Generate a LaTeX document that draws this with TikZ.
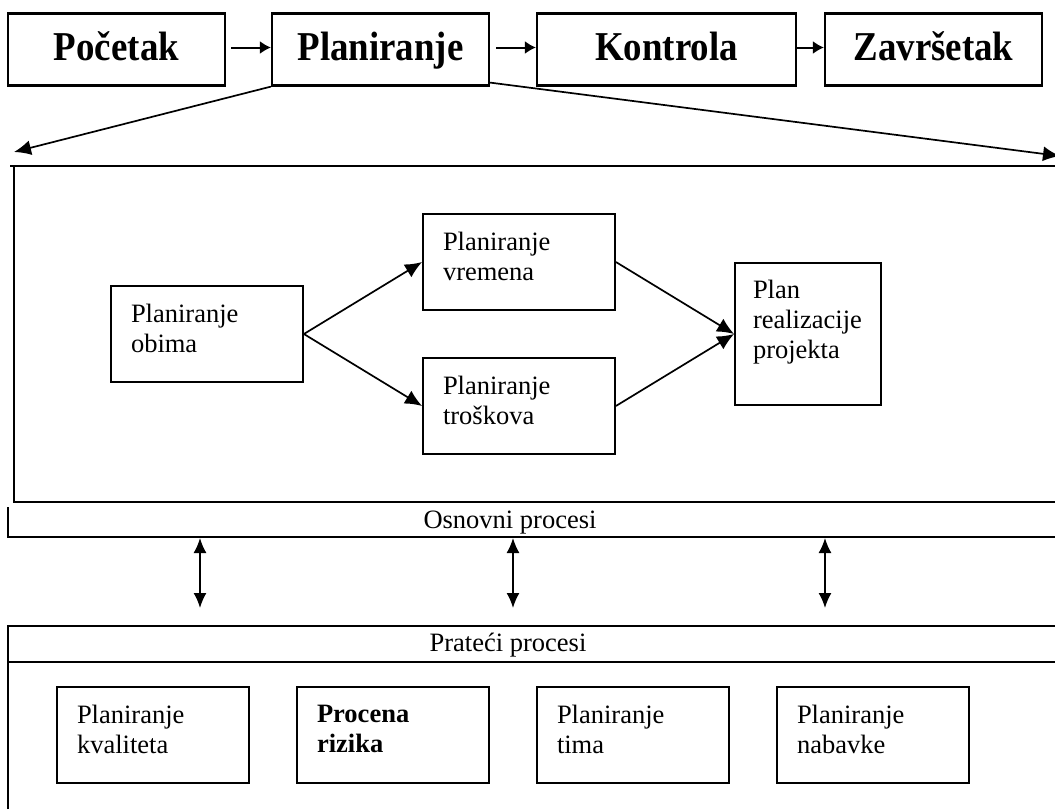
\documentclass[tikz,border=0pt]{standalone}
\usepackage{fontspec}
\setmainfont{Liberation Serif}
\newfontfamily\phasefont[FakeStretch=0.9]{Liberation Serif}
\usetikzlibrary{arrows.meta}

\tikzset{
  phase/.style={draw, line width=2.2pt, minimum width=217pt, minimum height=72pt,
    text height=30pt, text depth=8pt,
    font=\phasefont\fontsize{41}{44}\selectfont\bfseries},
  proc/.style={draw, line width=1.8pt, minimum width=192pt, minimum height=96pt,
    text width=152pt, inner xsep=20pt, text depth=42pt, align=left,
    font=\fontsize{26.5}{30}\selectfont},
  band/.style={font=\fontsize{26.5}{30}\selectfont},
  rule/.style={line width=1.8pt},
  tip/.style={-{Latex[length=17pt,width=15pt]}, line width=1.7pt},
  stip/.style={-{Latex[length=11pt,width=13pt]}, line width=2pt},
  dtip/.style={{Latex[length=15pt,width=13pt]}-{Latex[length=15pt,width=13pt]}, line width=1.7pt}
}

\begin{document}
\begin{tikzpicture}[x=1pt,y=-1pt]
\useasboundingbox (0,0) rectangle (1055,809);

% faze projekta
\node[phase] (pocetak) at (116.5,49.5) {Početak};
\node[phase] (planiranje) at (380.5,49.5) {Planiranje};
\node[phase, minimum width=259pt] (kontrola) at (666.5,49.5) {Kontrola};
\node[phase] (zavrsetak) at (933.5,49.5) {Završetak};
\draw[stip] ([xshift=5pt,yshift=2pt]pocetak.east) -- ([yshift=2pt]planiranje.west);
\draw[stip] ([xshift=6pt,yshift=2pt]planiranje.east) -- ([yshift=2pt]kontrola.west);
\draw[stip] ([yshift=2pt]kontrola.east) -- ([yshift=2pt]zavrsetak.west);

\coordinate (levo) at (14,152);
\coordinate (desno) at (1060,156);
\draw[tip] (planiranje.south west) -- (levo);
\draw[tip] ([yshift=4pt]planiranje.south east) -- (desno);

% osnovni procesi
\draw[rule] (10,166) -- (1055,166);
\draw[rule] (14,166) -- (14,502) -- (1055,502);

\node[proc] (obim) at (207,334) {Planiranje\\obima};
\node[proc] (vreme) at (519,262) {Planiranje\\vremena};
\node[proc] (troskovi) at (519,406) {Planiranje\\troškova};
\node[proc, minimum width=146pt, minimum height=142pt, text width=110pt, inner xsep=18pt, text depth=90pt]
  (realizacija) at (808,334) {Plan\\realizacije\\projekta};
\draw[tip] (obim.east) -- (vreme.west);
\draw[tip] (obim.east) -- (troskovi.west);
\draw[tip] (vreme.east) -- (realizacija.west);
\draw[tip] (troskovi.east) -- (realizacija.west);

\draw[rule] (8,507) -- (8,537) -- (1055,537);
\node[band] (osnovni) at (510,523) {Osnovni procesi};

\foreach \x/\n in {200/a,513/b,825/c} {
  \coordinate (osn-\n) at (\x,538);
  \coordinate (prat-\n) at (\x,608);
  \draw[dtip] (osn-\n) -- (prat-\n);
}

% prateci procesi
\draw[rule] (8,809) -- (8,626) -- (1055,626);
\draw[rule] (8,662) -- (1055,662);
\node[band] (prateci) at (508,645) {Prateći procesi};

\node[proc] (kvalitet) at (153,735) {Planiranje\\kvaliteta};
\node[proc, font=\fontsize{26.5}{30}\selectfont\bfseries] (rizik) at (393,735) {Procena\\rizika};
\node[proc] (tim) at (633,735) {Planiranje\\tima};
\node[proc] (nabavka) at (873,735) {Planiranje\\nabavke};
\end{tikzpicture}
\end{document}
